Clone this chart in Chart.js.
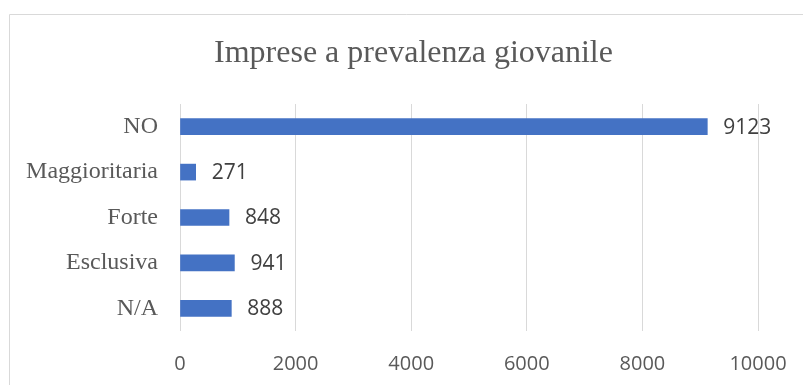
<!DOCTYPE html>
<html>
<head>
  <meta charset="UTF-8">
  <title>Imprese a prevalenza giovanile</title>
  <script src="https://cdn.jsdelivr.net/npm/chart.js"></script>
  <style>
    html, body { margin: 0; padding: 0; background: #fff; overflow: hidden; }
    #wrap { position: relative; width: 803px; height: 385px; }
  </style>
</head>
<body>
  <div id="wrap"><canvas id="chart"></canvas></div>
  <script>
    const chartTitle = "Imprese a prevalenza giovanile";
    const categories = ["NO", "Maggioritaria", "Forte", "Esclusiva", "N/A"];
    const counts = [9123, 271, 848, 941, 888];
    const xTicks = [0, 2000, 4000, 6000, 8000, 10000];

    const serif = "'Liberation Serif', 'Times New Roman', serif";
    const sans = "'Open Sans', 'Liberation Sans', sans-serif";

    // outer frame (only top and left edges are visible) + title,
    // which sits a bit right of the canvas centre in the original
    const framePlugin = {
      id: "frame",
      beforeDraw(chart) {
        const ctx = chart.ctx;
        ctx.save();
        ctx.strokeStyle = "#d9d9d9";
        ctx.lineWidth = 1;
        ctx.beginPath();
        ctx.moveTo(9.5, chart.height);
        ctx.lineTo(9.5, 14.5);
        ctx.lineTo(chart.width, 14.5);
        ctx.stroke();

        ctx.font = "32px " + serif;
        ctx.fillStyle = "#595959";
        ctx.textAlign = "center";
        ctx.textBaseline = "middle";
        ctx.fillText(chartTitle, 413.5, 54);
        ctx.restore();
      }
    };

    // value labels at the end of each bar
    const valueLabels = {
      id: "valueLabels",
      afterDatasetsDraw(chart) {
        const ctx = chart.ctx;
        const meta = chart.getDatasetMeta(0);
        ctx.save();
        ctx.font = "21px " + sans;
        ctx.fillStyle = "#404040";
        ctx.textAlign = "left";
        ctx.textBaseline = "middle";
        meta.data.forEach((bar, i) => {
          ctx.fillText(String(counts[i]), bar.x + 16, bar.y + 1);
        });
        ctx.restore();
      }
    };

    new Chart(document.getElementById("chart"), {
      type: "bar",
      data: {
        labels: categories,
        datasets: [{
          data: counts,
          backgroundColor: "#4472c4",
          borderWidth: 0,
          barThickness: 16
        }]
      },
      options: {
        indexAxis: "y",
        responsive: true,
        maintainAspectRatio: false,
        animation: false,
        layout: { padding: { left: 24, right: 45, top: 104, bottom: 0 } },
        plugins: {
          legend: { display: false },
          tooltip: { enabled: false },
          title: { display: false }
        },
        scales: {
          x: {
            min: 0,
            max: 10000,
            afterBuildTicks(scale) {
              scale.ticks = xTicks.map(v => ({ value: v }));
            },
            afterFit(scale) {
              scale.height = 54;
              scale.paddingLeft = 0;
              scale.paddingRight = 0;
            },
            grid: { color: "#d9d9d9", lineWidth: 1, drawTicks: false },
            border: { display: false },
            ticks: {
              color: "#595959",
              padding: 21,
              font: { family: sans, size: 20 },
              callback: v => String(v)
            }
          },
          y: {
            afterFit(scale) { scale.width = 156; },
            grid: { display: false, drawTicks: false },
            border: { display: false },
            ticks: {
              color: "#595959",
              padding: 22,
              font: { family: serif, size: 24 }
            }
          }
        }
      },
      plugins: [framePlugin, valueLabels]
    });
  </script>
</body>
</html>
